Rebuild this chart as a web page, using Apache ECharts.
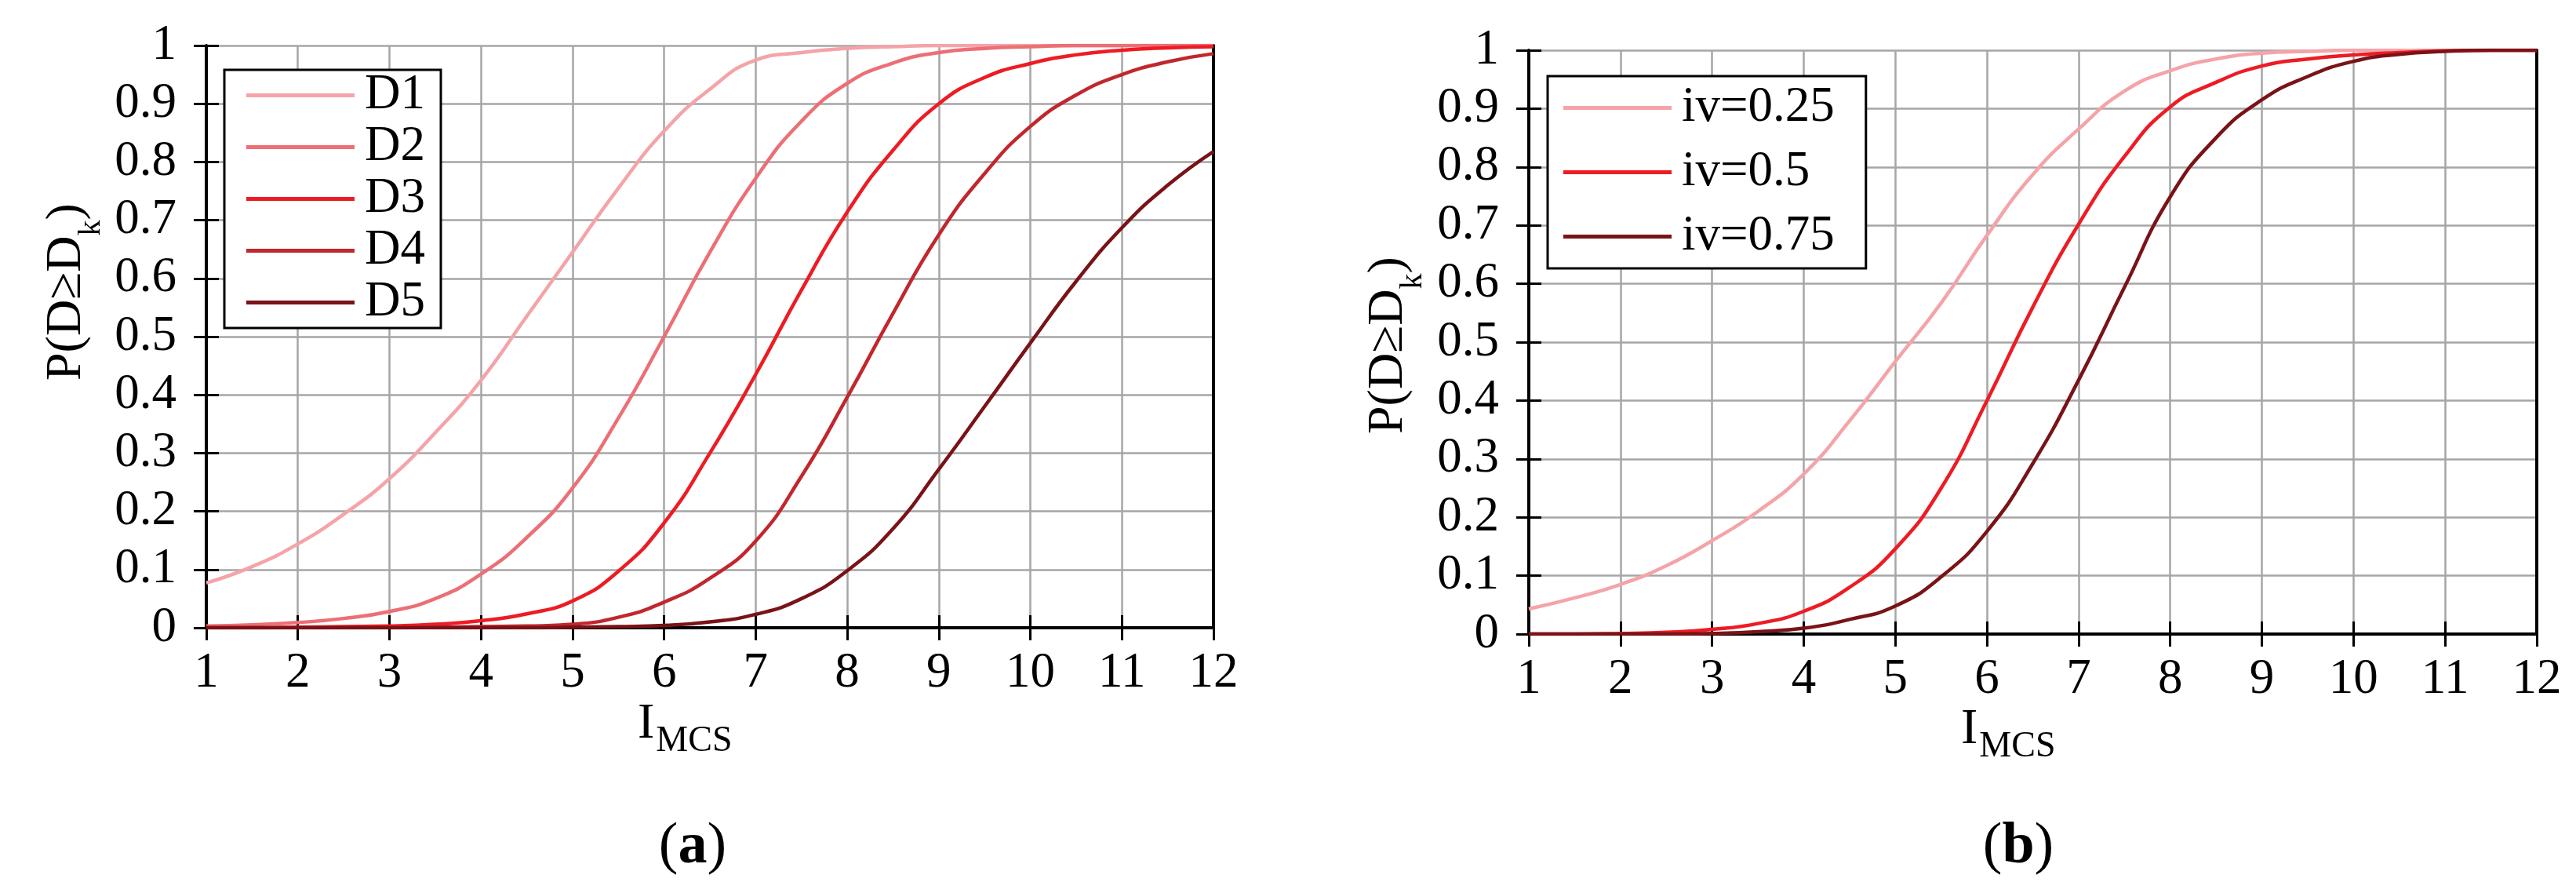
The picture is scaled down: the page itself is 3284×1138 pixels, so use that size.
<!DOCTYPE html>
<html>
<head>
<meta charset="utf-8">
<script src="https://cdn.jsdelivr.net/npm/echarts@6/dist/echarts.min.js"></script>
<style>
  html, body { margin: 0; padding: 0; background: #fff; }
  #chart { width: 3284px; height: 1138px; }
</style>
</head>
<body>
<div id="chart"></div>
<script>
  // x positions (I_MCS) shared by every curve
  const xs = [1, 1.5, 2, 2.5, 3, 3.5, 4, 4.5, 5, 5.5, 6, 6.5, 7, 7.5, 8, 8.5, 9, 9.5, 10, 10.5, 11, 11.5, 12];

  // (a) damage states
  const d1 = [0.077, 0.105, 0.144, 0.195, 0.256, 0.335, 0.425, 0.535, 0.645, 0.755, 0.853, 0.925, 0.975, 0.988, 0.995, 0.998, 1, 1, 1, 1, 1, 1, 1];
  const d2 = [0.003, 0.005, 0.009, 0.016, 0.028, 0.05, 0.092, 0.155, 0.24, 0.36, 0.5, 0.645, 0.772, 0.87, 0.935, 0.97, 0.988, 0.995, 0.998, 1, 1, 1, 1];
  const d3 = [0, 0, 0.001, 0.002, 0.003, 0.006, 0.012, 0.024, 0.046, 0.097, 0.18, 0.3, 0.435, 0.58, 0.714, 0.82, 0.9, 0.945, 0.969, 0.984, 0.992, 0.996, 0.998];
  const d4 = [0, 0, 0, 0, 0, 0.001, 0.002, 0.003, 0.006, 0.018, 0.044, 0.085, 0.149, 0.26, 0.396, 0.54, 0.675, 0.78, 0.861, 0.915, 0.95, 0.972, 0.986];
  const d5 = [0, 0, 0, 0, 0, 0, 0, 0, 0.001, 0.002, 0.004, 0.01, 0.023, 0.05, 0.098, 0.17, 0.272, 0.38, 0.489, 0.595, 0.687, 0.76, 0.818];

  // (b) iv values
  const iv025 = [0.043, 0.062, 0.085, 0.117, 0.16, 0.21, 0.274, 0.365, 0.467, 0.567, 0.683, 0.787, 0.865, 0.93, 0.965, 0.985, 0.995, 0.998, 1, 1, 1, 1, 1];
  const iv05 = [0, 0, 0.001, 0.003, 0.008, 0.018, 0.039, 0.08, 0.146, 0.25, 0.4, 0.56, 0.702, 0.818, 0.903, 0.945, 0.973, 0.985, 0.992, 0.996, 0.999, 1, 1];
  const iv075 = [0, 0, 0, 0, 0.001, 0.004, 0.01, 0.025, 0.048, 0.098, 0.176, 0.292, 0.435, 0.594, 0.749, 0.85, 0.915, 0.955, 0.981, 0.993, 0.998, 1, 1];

  const namesA = ['D1', 'D2', 'D3', 'D4', 'D5'];
  const valuesA = [d1, d2, d3, d4, d5];
  const colorsA = ['#f4a4a8', '#ec6f75', '#ed1c24', '#c1272d', '#7a1317'];
  const namesB = ['iv=0.25', 'iv=0.5', 'iv=0.75'];
  const valuesB = [iv025, iv05, iv075];
  const colorsB = ['#f4a4a8', '#ed1c24', '#7a1317'];

  const FONT = 'Liberation Serif';
  const FS = 63;

  const chart = echarts.init(document.getElementById('chart'));

  // measure text so sub/superscript pieces line up
  const cv = document.createElement('canvas').getContext('2d');
  function tw(s, size, weight) {
    cv.font = (weight || 'normal') + ' ' + size + 'px "' + FONT + '"';
    return cv.measureText(s).width;
  }

  const boxA = {left: 263, top: 58, width: 1284, height: 742};
  const boxB = {left: 1949, top: 64, width: 1285, height: 744};

  function mainX(grid) {
    return {
      gridIndex: grid, type: 'value', min: 1, max: 12, interval: 1, position: 'bottom',
      axisLine: {lineStyle: {color: '#000', width: 4}},
      axisTick: {length: 16, lineStyle: {color: '#000', width: 3}},
      axisLabel: {margin: 27, fontSize: FS, fontFamily: FONT, color: '#000'},
      splitLine: {show: true, lineStyle: {color: '#a6a6a6', width: 2.5}}
    };
  }
  function mainY(grid) {
    return {
      gridIndex: grid, type: 'value', min: 0, max: 1, interval: 0.1, position: 'left',
      axisLine: {show: true, lineStyle: {color: '#000', width: 4}},
      axisTick: {show: true, length: 16, lineStyle: {color: '#000', width: 3}},
      axisLabel: {margin: 38, fontSize: FS, fontFamily: FONT, color: '#000'},
      splitLine: {show: true, lineStyle: {color: '#a6a6a6', width: 2.5}}
    };
  }
  // frame lines on top / right
  function frameX(grid) {
    return {
      gridIndex: grid, type: 'value', min: 1, max: 12, position: 'top',
      axisLine: {lineStyle: {color: '#000', width: 4}},
      axisTick: {show: false}, axisLabel: {show: false}, splitLine: {show: false}
    };
  }
  function frameY(grid) {
    return {
      gridIndex: grid, type: 'value', min: 0, max: 1, position: 'right',
      axisLine: {show: true, lineStyle: {color: '#000', width: 4}},
      axisTick: {show: false}, axisLabel: {show: false}, splitLine: {show: false}
    };
  }
  // inward half of the crossing ticks
  function innerX(grid) {
    return {
      gridIndex: grid, type: 'value', min: 1, max: 12, interval: 1, position: 'bottom',
      axisLine: {show: false},
      axisTick: {inside: true, length: 16, lineStyle: {color: '#000', width: 3}},
      axisLabel: {show: false}, splitLine: {show: false}
    };
  }
  function innerY(grid) {
    return {
      gridIndex: grid, type: 'value', min: 0, max: 1, interval: 0.1, position: 'left',
      axisLine: {show: false},
      axisTick: {show: true, inside: true, length: 16, lineStyle: {color: '#000', width: 3}},
      axisLabel: {show: false}, splitLine: {show: false}
    };
  }

  function makeSeries(names, values, colors, axisIdx) {
    return names.map(function (n, i) {
      return {
        name: n, type: 'line', xAxisIndex: axisIdx, yAxisIndex: axisIdx,
        data: xs.map(function (x, k) { return [x, values[i][k]]; }),
        smooth: 0.5, showSymbol: false, symbol: 'none',
        lineStyle: {color: colors[i], width: 4.5},
        itemStyle: {color: colors[i]},
        z: 5 + i
      };
    });
  }

  function legendOf(names, left, top, gap, pad) {
    return {
      data: names, orient: 'vertical', left: left, top: top,
      icon: 'rect', itemWidth: 138, itemHeight: 5, itemGap: gap,
      padding: pad, borderColor: '#000', borderWidth: 3, backgroundColor: '#fff',
      selectedMode: false,
      textStyle: {fontFamily: FONT, fontSize: FS, color: '#000', padding: [0, 0, 0, 8]}
    };
  }

  // rotated y name: P(D≥D_k)
  function yName(baseX, startY) {
    const w1 = tw('P(D\u2265D', 64);
    const wk = tw('k', 40);
    return {
      type: 'group', x: 0, y: startY, rotation: Math.PI / 2,
      children: [
        {type: 'text', x: 0, y: baseX, style: {text: 'P(D\u2265D', fontSize: 64, fontFamily: FONT, fill: '#000', align: 'left', verticalAlign: 'middle'}},
        {type: 'text', x: w1, y: baseX + 31, style: {text: 'k', fontSize: 40, fontFamily: FONT, fill: '#000', align: 'left', verticalAlign: 'middle'}},
        {type: 'text', x: w1 + wk, y: baseX, style: {text: ')', fontSize: 64, fontFamily: FONT, fill: '#000', align: 'left', verticalAlign: 'middle'}}
      ]
    };
  }
  // I_MCS
  function xName(x, y) {
    const wI = tw('I', 64);
    return [
      {type: 'text', x: x, y: y, style: {text: 'I', fontSize: 64, fontFamily: FONT, fill: '#000', align: 'left', verticalAlign: 'middle'}},
      {type: 'text', x: x + wI + 2, y: y + 22, style: {text: 'MCS', fontSize: 46, fontFamily: FONT, fill: '#000', align: 'left', verticalAlign: 'middle'}}
    ];
  }
  function caption(letter, x, y) {
    return {
      type: 'text', x: x, y: y,
      style: {
        text: '{n|(}{b|' + letter + '}{n|)}', align: 'center', verticalAlign: 'middle',
        rich: {
          n: {fontSize: 74, fontFamily: FONT, color: '#000'},
          b: {fontSize: 74, fontFamily: FONT, fontWeight: 'bold', color: '#000'}
        }
      }
    };
  }

  const option = {
    backgroundColor: '#fff',
    animation: false,
    grid: [
      Object.assign({containLabel: false}, boxA),
      Object.assign({containLabel: false}, boxA),
      Object.assign({containLabel: false}, boxB),
      Object.assign({containLabel: false}, boxB)
    ],
    xAxis: [mainX(0), frameX(0), innerX(1), mainX(2), frameX(2), innerX(3)],
    yAxis: [mainY(0), frameY(0), innerY(1), mainY(2), frameY(2), innerY(3)],
    legend: [
      legendOf(namesA, 286, 89, 3, [1, 20, 1, 28]),
      legendOf(namesB, 1973, 97, 19, [9, 40, 9, 20])
    ],
    series: makeSeries(namesA, valuesA, colorsA, 0).concat(makeSeries(namesB, valuesB, colorsB, 3)),
    graphic: [
      yName(85, 485),
      yName(1770, 553)
    ].concat(xName(813, 923), xName(2500, 930), [
      caption('a', 883, 1080),
      caption('b', 2573, 1080)
    ])
  };

  chart.setOption(option);
</script>
</body>
</html>
